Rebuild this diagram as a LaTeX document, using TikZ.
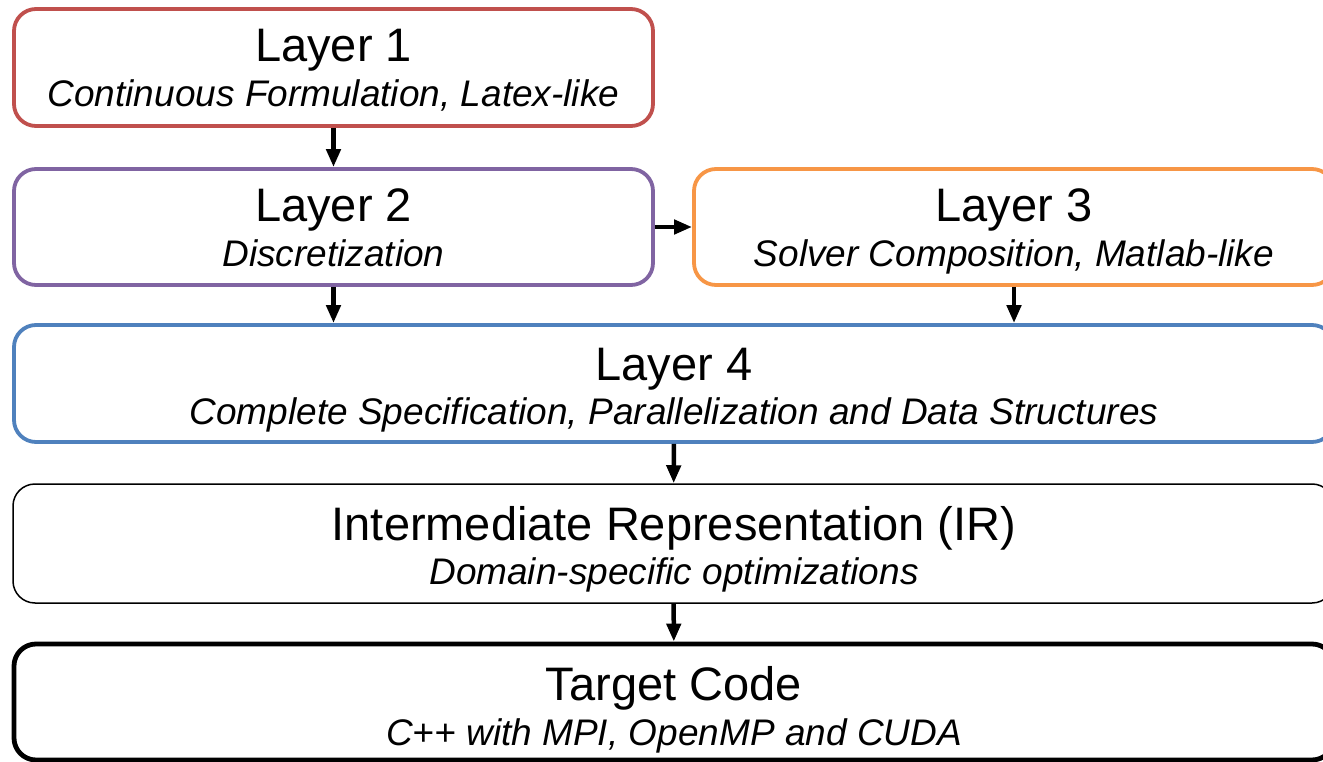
\documentclass[tikz,border=0pt]{standalone}
\usepackage{fontspec}
\setmainfont{Liberation Sans}
\usetikzlibrary{arrows.meta}
\definecolor{cred}{HTML}{C0504D}
\definecolor{cpurple}{HTML}{8064A2}
\definecolor{corange}{HTML}{F79646}
\definecolor{cblue}{HTML}{4F81BD}
\tikzset{
  box/.style={draw=#1, rectangle, rounded corners=22pt, line width=3.8pt, inner sep=0pt, fill=white},
  ttl/.style={anchor=base, inner sep=0pt, font=\fontsize{47}{50}\selectfont},
  sub/.style={anchor=base, inner sep=0pt, font=\fontsize{37}{40}\selectfont\itshape},
  arr/.style={line width=4.5pt, -{Triangle[length=18pt,width=14pt]}},
}
\begin{document}
\begin{tikzpicture}[x=1pt,y=-1pt]
\useasboundingbox (0,0) rectangle (1323,762);
\node[box=cred, minimum width=639pt, minimum height=117pt] (l1) at (333.5,67.5) {};
\node[box=cpurple, minimum width=639pt, minimum height=116pt] (l2) at (333.5,227) {};
\node[box=corange, minimum width=640pt, minimum height=116pt] (l3) at (1014,227) {};
\node[box=cblue, minimum width=1320pt, minimum height=117pt] (l4) at (674,383.5) {};
\node[box=black, line width=1.5pt, minimum width=1321pt, minimum height=119pt] (ir) at (673.5,543.5) {};
\node[box=black, line width=4.8pt, minimum width=1320pt, minimum height=116pt] (tc) at (674,702) {};

\node[ttl] (t1) at (333.5,62) {Layer 1};
\node[sub] (s1) at (333.5,107) {Continuous Formulation, Latex-like};
\node[ttl] (t2) at (333.5,222) {Layer 2};
\node[sub] (s2) at (333.5,267) {Discretization};
\node[ttl] (t3) at (1014,222) {Layer 3};
\node[sub] (s3) at (1014,267) {Solver Composition, Matlab-like};
\node[ttl] (t4) at (674,380) {Layer 4};
\node[sub] (s4) at (674,424) {Complete Specification, Parallelization and Data Structures};
\node[ttl] (t5) at (674,540) {Intermediate Representation (IR)};
\node[sub] (s5) at (674,584) {Domain-specific optimizations};
\node[ttl] (t6) at (674,700) {Target Code};
\node[sub] (s6) at (674,745) {C++ with MPI, OpenMP and CUDA};

\draw[arr] (l1) -- (l2);
\draw[arr] (l2) -- (l3);
\draw[arr] (l2.south) -- (l2.south |- l4.north);
\draw[arr] (l3.south) -- (l3.south |- l4.north);
\draw[arr] (l4) -- (ir);
\draw[arr] (ir) -- (tc);
\end{tikzpicture}
\end{document}
